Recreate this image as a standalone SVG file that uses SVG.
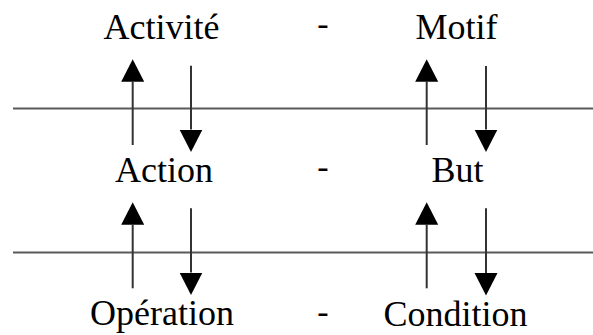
<svg xmlns="http://www.w3.org/2000/svg" width="593" height="335" viewBox="0 0 593 335">
  <defs>
    <style>
      .lbl { font-family: "Liberation Serif", "Times New Roman", serif; font-size: 36px; fill: #000; text-anchor: middle; }
      .dash { font-family: "Liberation Serif", "Times New Roman", serif; font-size: 34px; fill: #000; text-anchor: middle; }
      .sep { stroke: #5a5a5a; stroke-width: 2; fill: none; }
      .shaft { stroke: #333; stroke-width: 2; fill: none; marker-end: url(#head); }
    </style>
    <marker id="head" markerUnits="userSpaceOnUse" markerWidth="24" markerHeight="24" refX="0" refY="11.5" orient="auto">
      <path d="M0,0 L22.5,11.5 L0,23 Z" fill="#000"/>
    </marker>
  </defs>
  <rect width="593" height="335" fill="#fff"/>

  <g id="separators">
    <line class="sep" x1="13" y1="108.5" x2="593" y2="108.5"/>
    <line class="sep" x1="13" y1="252.5" x2="593" y2="252.5"/>
  </g>

  <g id="node-activite"><text class="lbl" x="161.5" y="39">Activité</text></g>
  <g id="node-motif"><text class="lbl" x="456.5" y="39">Motif</text></g>
  <g id="node-action"><text class="lbl" x="164" y="182">Action</text></g>
  <g id="node-but"><text class="lbl" x="457.5" y="182">But</text></g>
  <g id="node-operation"><text class="lbl" x="162" y="325">Opération</text></g>
  <g id="node-condition"><text class="lbl" x="455.5" y="326">Condition</text></g>

  <g id="dashes">
    <text class="dash" x="323" y="35">-</text>
    <text class="dash" x="323" y="178">-</text>
    <text class="dash" x="323" y="323">-</text>
  </g>

  <g id="connectors">
    <line class="shaft" x1="132.7" y1="145" x2="132.7" y2="81.8"/>
    <line class="shaft" x1="191" y1="65.7" x2="191" y2="129.5"/>
    <line class="shaft" x1="426.7" y1="145" x2="426.7" y2="81.8"/>
    <line class="shaft" x1="486" y1="66" x2="486" y2="129.5"/>
    <line class="shaft" x1="132.7" y1="288.3" x2="132.7" y2="224.8"/>
    <line class="shaft" x1="191" y1="208.3" x2="191" y2="272.5"/>
    <line class="shaft" x1="426.7" y1="288.3" x2="426.7" y2="224.8"/>
    <line class="shaft" x1="486" y1="208.3" x2="486" y2="273"/>
  </g>
</svg>
